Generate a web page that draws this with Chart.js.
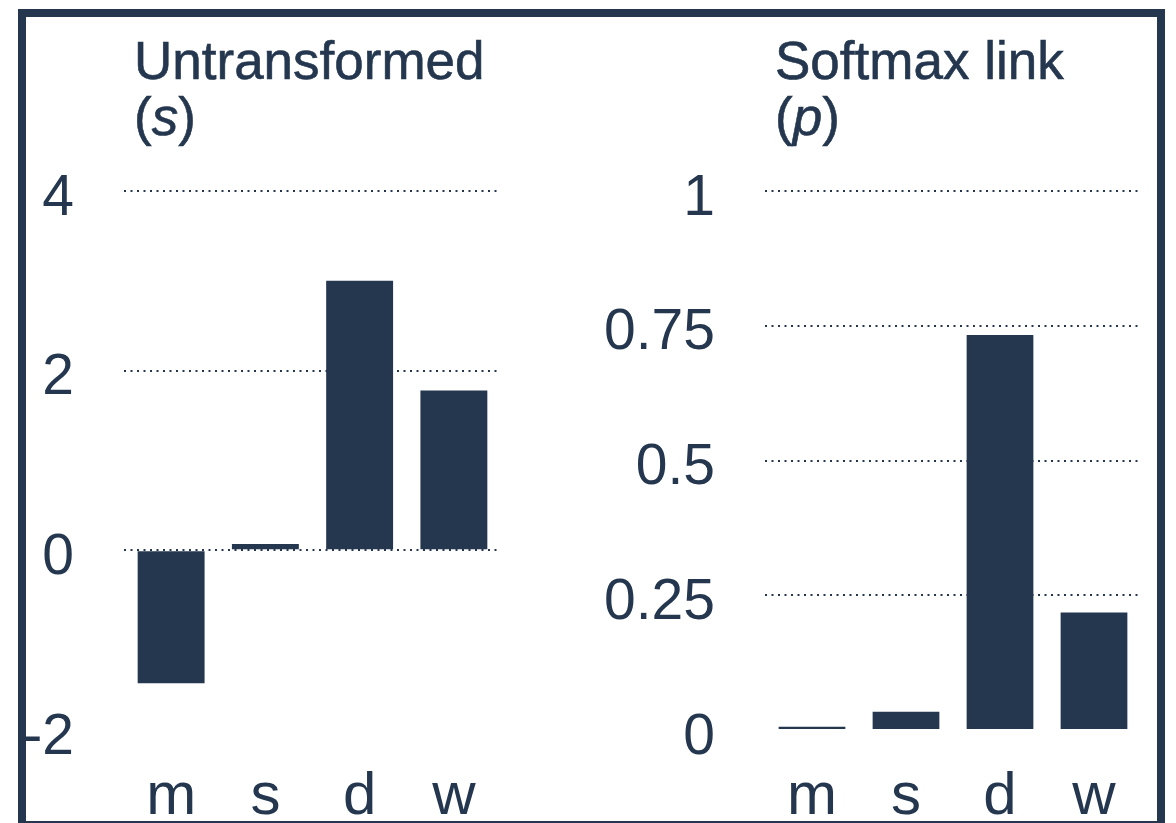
<!DOCTYPE html>
<html>
<head>
<meta charset="utf-8">
<script src="https://cdn.jsdelivr.net/npm/chart.js@4.4.1/dist/chart.umd.min.js"></script>
<style>
  html, body { margin: 0; padding: 0; background: #fff; overflow: hidden; }
  body { width: 1176px; height: 823px; position: relative; }
  .frame {
    position: absolute; left: 18px; top: 9px; width: 1147px; height: 820px;
    box-sizing: border-box; border: 8px solid #24374f;
  }
  .title {
    position: absolute; font-family: "Liberation Sans", Arial, sans-serif;
    font-size: 53px; line-height: 56px; color: #24374f; white-space: nowrap;
    -webkit-text-stroke: 0.6px #24374f;
  }
  canvas { position: absolute; top: 0; }
</style>
</head>
<body>
<div class="frame"></div>
<div class="title" style="left:134px; top:33px">Untransformed<br>(<i>s</i>)</div>
<div class="title" style="left:775px; top:33px">Softmax link<br>(<i>p</i>)</div>
<canvas id="leftChart" width="590" height="823" style="left:0"></canvas>
<canvas id="rightChart" width="567" height="823" style="left:590px"></canvas>
<script>
const categories = ["m", "s", "d", "w"];
const untransformed = [-1.48, 0.07, 3.0, 1.78];
const softmaxLink = [0.006, 0.034, 0.733, 0.218];
const leftTicks = [-2, 0, 2, 4];
const rightTicks = [0, 0.25, 0.5, 0.75, 1];

const navy = "#24374f";
const fontFamily = "'Liberation Sans', Arial, sans-serif";

function makeOptions(tickValues, axisWidth, padRight) {
  const min = tickValues[0];
  return {
    responsive: false,
    animation: false,
    layout: { padding: { top: 191, right: padRight, left: 0, bottom: 0 } },
    plugins: { legend: { display: false }, tooltip: { enabled: false } },
    scales: {
      x: {
        grid: { display: false, drawTicks: false },
        border: { display: false },
        ticks: { color: navy, font: { family: fontFamily, size: 60 }, padding: 31 },
        afterFit: (scale) => { scale.height = 93; },
      },
      y: {
        min: min,
        max: tickValues[tickValues.length - 1],
        afterBuildTicks: (scale) => {
          scale.ticks = tickValues.map((v) => ({ value: v }));
        },
        afterFit: (scale) => { scale.width = axisWidth; },
        grid: {
          drawTicks: false,
          lineWidth: 2,
          color: (c) => (c.tick && c.tick.value === min ? "transparent" : navy),
        },
        border: { display: false, dash: [2, 4.5] },
        ticks: {
          color: navy,
          font: { family: fontFamily, size: 57 },
          padding: 50,
          labelOffset: 8,
          callback: (value) => String(value),
        },
      },
    },
  };
}

// left: untransformed scores
new Chart(document.getElementById("leftChart").getContext("2d"), {
  type: "bar",
  data: {
    labels: categories,
    datasets: [
      {
        data: untransformed,
        backgroundColor: navy,
        barPercentage: 0.71,
        categoryPercentage: 1,
      },
    ],
  },
  options: makeOptions(leftTicks, 124, 89),
});

// right: softmax probabilities
new Chart(document.getElementById("rightChart").getContext("2d"), {
  type: "bar",
  data: {
    labels: categories,
    datasets: [
      {
        data: softmaxLink,
        backgroundColor: navy,
        barPercentage: 0.71,
        categoryPercentage: 1,
      },
    ],
  },
  options: makeOptions(rightTicks, 175, 16),
});
</script>
</body>
</html>
